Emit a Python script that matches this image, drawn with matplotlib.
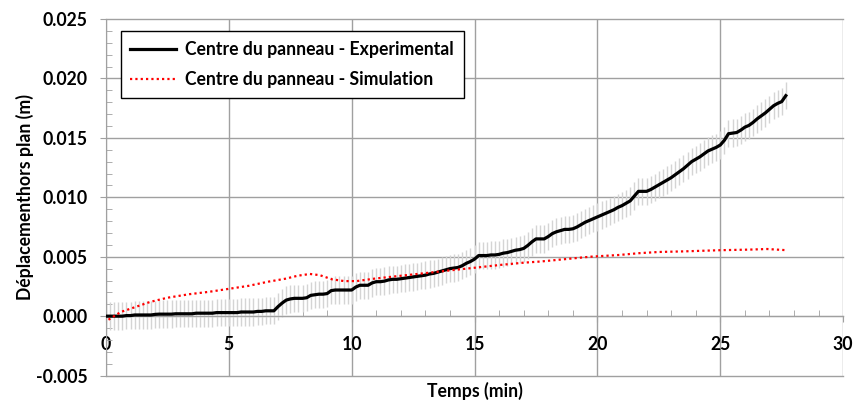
import numpy as np
from matplotlib import pyplot as plt
from matplotlib.ticker import MultipleLocator, FormatStrFormatter

# experimental displacement (mm), one reading every 10 s
exp_mm = [
    0.00, 0.00, 0.00, 0.00, 0.00, 0.05, 0.05, 0.10, 0.10, 0.10,
    0.10, 0.10, 0.15, 0.17, 0.17, 0.17, 0.17, 0.20, 0.20, 0.20,
    0.20, 0.20, 0.25, 0.25, 0.25, 0.25, 0.25, 0.30, 0.30, 0.30,
    0.30, 0.30, 0.30, 0.35, 0.35, 0.35, 0.35, 0.40, 0.40, 0.45,
    0.45, 0.45, 0.80, 1.10, 1.35, 1.45, 1.50, 1.50, 1.50, 1.55,
    1.75, 1.80, 1.85, 1.85, 1.90, 2.15, 2.20, 2.20, 2.20, 2.20,
    2.20, 2.45, 2.60, 2.60, 2.60, 2.80, 2.90, 2.90, 2.95, 3.05,
    3.10, 3.10, 3.15, 3.20, 3.25, 3.30, 3.35, 3.40, 3.45, 3.55,
    3.60, 3.70, 3.80, 3.90, 4.00, 4.05, 4.10, 4.25, 4.45, 4.60,
    4.80, 5.10, 5.10, 5.10, 5.15, 5.15, 5.20, 5.30, 5.35, 5.45,
    5.55, 5.60, 5.70, 5.95, 6.25, 6.50, 6.50, 6.50, 6.70, 6.95,
    7.10, 7.20, 7.30, 7.30, 7.35, 7.50, 7.70, 7.90, 8.05, 8.20,
    8.35, 8.50, 8.65, 8.80, 8.95, 9.15, 9.30, 9.50, 9.70, 10.10,
    10.50, 10.50, 10.50, 10.65, 10.85, 11.05, 11.25, 11.45, 11.65, 11.90,
    12.15, 12.40, 12.70, 13.00, 13.20, 13.40, 13.65, 13.90, 14.05, 14.20,
    14.40, 14.80, 15.35, 15.40, 15.45, 15.65, 15.90, 16.05, 16.30, 16.60,
    16.85, 17.10, 17.40, 17.70, 17.90, 18.05, 18.55,
]
exp_err_mm = 1.15

# simulation
sim_t = [0.1, 0.6, 1.1, 1.8, 2.5, 3.4, 4.2, 5.0, 5.8, 6.6, 7.3, 7.8, 8.3,
         8.7, 9.2, 9.7, 10.2, 10.9, 12.0, 12.9, 14.0, 14.9, 16.0, 17.0,
         17.7, 18.7, 19.7, 20.9, 21.7, 22.5, 23.5, 25.0, 26.2, 26.9, 27.7]
sim_mm = [-0.30, 0.35, 0.70, 1.20, 1.55, 1.85, 2.05, 2.30, 2.55, 2.90, 3.15,
          3.40, 3.55, 3.45, 3.10, 2.95, 2.95, 3.15, 3.40, 3.60, 3.85, 4.05,
          4.30, 4.50, 4.60, 4.80, 5.00, 5.15, 5.30, 5.40, 5.45, 5.55, 5.60,
          5.65, 5.55]

labels = ['Centre du panneau - Experimental', 'Centre du panneau - Simulation']


def main():
    plt.rcParams['font.family'] = ['Lato', 'DejaVu Sans']
    plt.rcParams['font.weight'] = 'bold'
    plt.rcParams['font.size'] = 12.7
    plt.rcParams['axes.unicode_minus'] = False

    exp_t = np.arange(len(exp_mm)) / 6.0
    exp = np.array(exp_mm) / 1000.0
    sim = np.array(sim_mm) / 1000.0

    fig = plt.figure(figsize=(8.56, 4.0), dpi=100)
    ax = fig.add_axes([0.1238, 0.061, 0.8612, 0.8915])

    gray = '#a0a0a0'
    ax.errorbar(exp_t, exp, yerr=exp_err_mm / 1000.0, fmt='none',
                ecolor='#d4d4d4', elinewidth=1.0, zorder=2)
    ax.plot(exp_t, exp, color='black', lw=2.3, label=labels[0], zorder=3,
            solid_joinstyle='round')
    ax.plot(sim_t, sim, color='red', lw=1.6, linestyle=(0, (1, 1.4)),
            label=labels[1], zorder=4)

    ax.set_xlim(0, 30)
    ax.set_ylim(-0.005, 0.025)
    ax.xaxis.set_major_locator(MultipleLocator(5))
    ax.xaxis.set_minor_locator(MultipleLocator(1))
    ax.yaxis.set_major_locator(MultipleLocator(0.005))
    ax.yaxis.set_minor_locator(MultipleLocator(0.001))
    ax.yaxis.set_major_formatter(FormatStrFormatter('%.3f'))

    ax.grid(True, which='major', color=gray, lw=1.0, zorder=1)
    for line in ax.get_xgridlines() + ax.get_ygridlines():
        line.set_clip_on(False)

    for s in ['top', 'right']:
        ax.spines[s].set_visible(False)
    ax.spines['left'].set_color(gray)
    ax.spines['bottom'].set_color(gray)
    ax.spines['bottom'].set_position(('data', 0))

    ax.tick_params(axis='y', which='major', direction='out', length=4,
                   color=gray, pad=9)
    ax.tick_params(axis='y', which='minor', direction='in', length=4,
                   color=gray)
    ax.tick_params(axis='x', which='major', direction='out', length=4,
                   color=gray, pad=10)
    ax.tick_params(axis='x', which='minor', direction='in', length=4,
                   color=gray)

    ax.set_ylabel('Déplacementhors plan (m)', fontweight='bold')
    ax.yaxis.set_label_coords(-0.098, 0.5)
    ax.set_xlabel('Temps (min)', fontweight='bold')
    ax.xaxis.set_label_coords(0.5, -0.018)

    leg = ax.legend(loc='upper left', bbox_to_anchor=(0.02, 0.966),
                    borderaxespad=0, fancybox=False, framealpha=1,
                    edgecolor='black', handlelength=2.6, labelspacing=0.75,
                    borderpad=0.55, handletextpad=0.5)
    leg.get_frame().set_linewidth(1.0)

    fig.savefig('out.png', dpi=100)


if __name__ == '__main__':
    main()
